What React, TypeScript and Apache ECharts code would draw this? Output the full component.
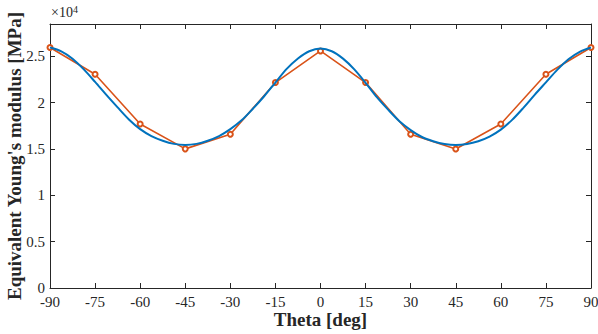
import React, { useEffect, useRef } from "react";
import * as echarts from "echarts";

const thetaDeg = [-90, -75, -60, -45, -30, -15, 0, 15, 30, 45, 60, 75, 90];
const orangeValues = [25960, 23080, 17700, 15020, 16600, 22180, 25590, 22180, 16600, 15010, 17700, 23080, 25960];

const blueTheta = [
  -90, -86.25, -82.5, -78.75, -75, -71.25, -67.5, -63.75, -60, -56.25, -52.5, -48.75, -45,
  -41.25, -37.5, -33.75, -30, -26.25, -22.5, -18.75, -15, -11.25, -7.5, -3.75, 0,
  3.75, 7.5, 11.25, 15, 18.75, 22.5, 26.25, 30, 33.75, 37.5, 41.25, 45,
  48.75, 52.5, 56.25, 60, 63.75, 67.5, 71.25, 75, 78.75, 82.5, 86.25, 90,
];
const blueValues = [
  25960, 25550, 24750, 23600, 22250, 20850, 19500, 18200, 17150, 16400, 15900, 15560, 15440,
  15560, 15900, 16400, 17150, 18100, 19350, 20700, 22180, 23650, 24780, 25560, 25850,
  25560, 24760, 23600, 22150, 20600, 19250, 18000, 17050, 16300, 15850, 15550, 15440,
  15550, 15850, 16350, 17100, 18150, 19450, 20850, 22200, 23550, 24700, 25500, 25960,
];

const xTicks = { min: -90, max: 90, interval: 15 };
const yTicks = { min: 0, max: 28500, interval: 5000 };

const FONT = "'Liberation Serif', 'Times New Roman', serif";
const AX = "#262626";

export default function App() {
  const ref = useRef<HTMLDivElement>(null);
  useEffect(() => {
    document.body.style.margin = "0";
    const chart = echarts.init(ref.current!, undefined, { renderer: "svg" });
    const axisCommon = {
      axisLine: { show: true, onZero: false, lineStyle: { color: AX, width: 1 } },
      axisTick: { show: true, inside: true, length: 5, lineStyle: { color: AX, width: 1 } },
      splitLine: { show: false },
    };
    chart.setOption({
      animation: false,
      backgroundColor: "#ffffff",
      grid: { left: 50, right: 7, top: 24, bottom: 46, containLabel: false, outerBoundsMode: "none" },
      xAxis: [
        {
          type: "value",
          ...xTicks,
          position: "bottom",
          ...axisCommon,
          axisLabel: {
            show: true,
            margin: 8,
            lineHeight: 12,
            color: AX,
            fontFamily: FONT,
            fontSize: 15,
            formatter: (v: number) => String(v),
          },
          name: "Theta [deg]",
          nameLocation: "middle",
          nameMoveOverlap: false,
          nameGap: 22,
          nameTextStyle: { color: AX, fontFamily: FONT, fontSize: 19, fontWeight: "bold", verticalAlign: "top" },
        },
        {
          type: "value",
          ...xTicks,
          position: "top",
          ...axisCommon,
          axisLabel: { show: false },
        },
      ],
      yAxis: [
        {
          type: "value",
          ...yTicks,
          position: "left",
          ...axisCommon,
          axisLabel: {
            show: true,
            showMaxLabel: false,
            margin: 5,
            lineHeight: 12,
            color: AX,
            fontFamily: FONT,
            fontSize: 15,
            formatter: (v: number) => (v === 0 ? "0" : String(v / 10000)),
          },
          name: "Equivalent Young's modulus [MPa]",
          nameLocation: "middle",
          nameMoveOverlap: false,
          nameGap: 26,
          nameTextStyle: { color: AX, fontFamily: FONT, fontSize: 19, fontWeight: "bold" },
        },
        {
          type: "value",
          ...yTicks,
          position: "right",
          ...axisCommon,
          axisLabel: { show: false },
        },
      ],
      graphic: [
        {
          type: "text",
          left: 51,
          top: 4,
          style: {
            text: "×10{sup|4}",
            font: `14px ${FONT}`,
            fill: AX,
            rich: {
              sup: { fontSize: 10, fontFamily: FONT, verticalAlign: "top", padding: [0, 0, 6, 0], fill: AX },
            },
          },
        },
      ],
      series: [
        {
          type: "line",
          data: thetaDeg.map((t, i) => [t, orangeValues[i]]),
          symbol: "emptyCircle",
          symbolSize: 5,
          lineStyle: { color: "#D95319", width: 1.6 },
          itemStyle: { color: "#D95319", borderWidth: 1.2 },
          z: 2,
        },
        {
          type: "line",
          data: blueTheta.map((t, i) => [t, blueValues[i]]),
          smooth: 0.3,
          symbol: "none",
          lineStyle: { color: "#0072BD", width: 2 },
          z: 3,
        },
      ],
    });
    return () => chart.dispose();
  }, []);
  return <div ref={ref} style={{ position: "absolute", left: 0, top: 0, width: 598, height: 334 }} />;
}
